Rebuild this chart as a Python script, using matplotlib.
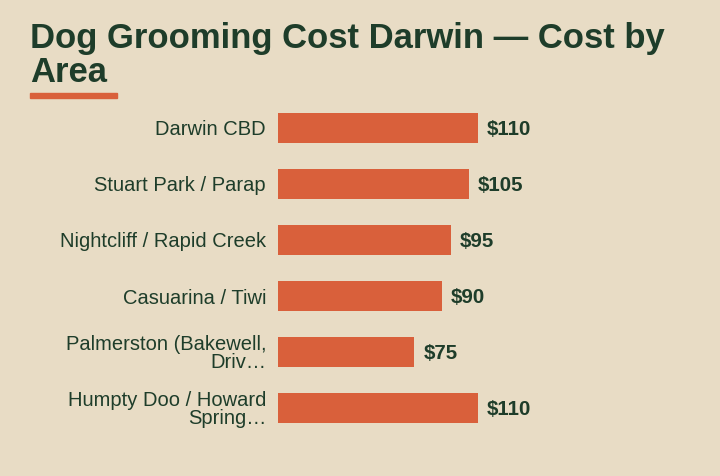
import matplotlib
matplotlib.use('Agg')
import matplotlib.pyplot as plt
from matplotlib.patches import Rectangle

# Data
areas = ['Darwin CBD', 'Stuart Park / Parap', 'Nightcliff / Rapid Creek',
         'Casuarina / Tiwi', 'Palmerston (Bakewell,\nDriv\u2026',
         'Humpty Doo / Howard\nSpring\u2026']
costs = [110, 105, 95, 90, 75, 110]

BG = '#E8DCC5'
BAR = '#D9603B'
INK = '#1E3D2A'

plt.rcParams['font.family'] = ['Liberation Sans', 'DejaVu Sans']

W, H = 720, 476
fig = plt.figure(figsize=(W / 100, H / 100), dpi=100, facecolor=BG)

# axes span: bars start at x=278, 110 -> 200px
ax = fig.add_axes([278 / W, (H - 436) / H, 200 / W, 336 / H])
ax.set_facecolor(BG)
ax.set_xlim(0, 110)
ax.set_ylim(len(areas) - 0.5, -0.5)

y = list(range(len(areas)))
ax.barh(y, costs, height=0.55, color=BAR)

for i, v in enumerate(costs):
    ax.annotate(f'${v}', xy=(v, i), xytext=(6.5, -1.2), textcoords='offset points',
                ha='left', va='center', fontsize=14.8, fontweight='bold',
                color=INK, annotation_clip=False)

ax.set_yticks(y)
ax.set_yticklabels(areas, fontsize=14.5, color=INK, linespacing=0.95)
ax.tick_params(axis='y', length=0, pad=8.6)
ax.set_xticks([])
for s in ax.spines.values():
    s.set_visible(False)

# Title + accent underline
fig.text(30 / W, 1 - 22 / H, 'Dog Grooming Cost Darwin \u2014 Cost by\nArea',
         ha='left', va='top', fontsize=24.9, fontweight='bold', color=INK,
         linespacing=1.03)
fig.patches.append(Rectangle((30 / W, 1 - 98 / H), 87 / W, 4.5 / H,
                             transform=fig.transFigure, color=BAR))

plt.savefig('out.png', dpi=100, facecolor=BG)
